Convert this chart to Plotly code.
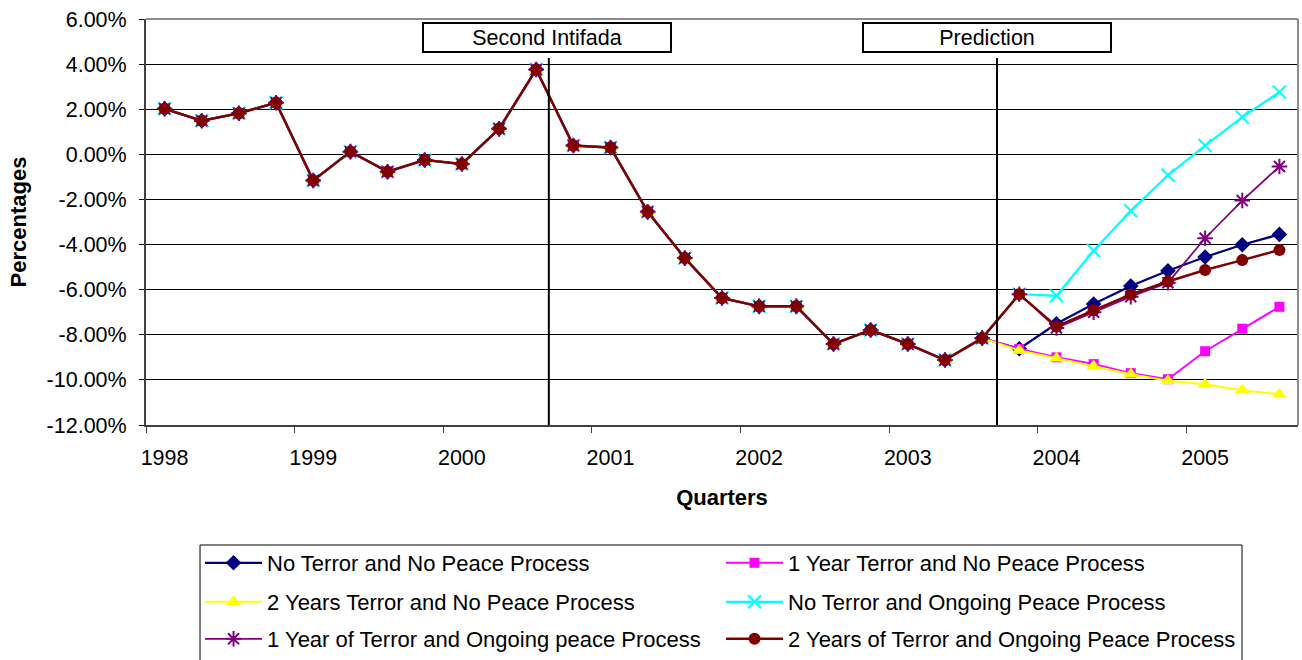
import plotly.graph_objects as go

# Quarterly timeline, 1998 Q1 through 2005 Q3
years = list(range(1998, 2006))
quarters = [f"{y} Q{q}" for y in years for q in range(1, 5)][:31]
x_idx = list(range(len(quarters)))

# Observed values (percent), 1998 Q1 - 2003 Q3, shared by every scenario
history = [2.02, 1.49, 1.82, 2.29, -1.16, 0.12, -0.77, -0.25, -0.43, 1.13,
           3.76, 0.39, 0.30, -2.55, -4.60, -6.37, -6.74, -6.74, -8.41, -7.79,
           -8.41, -9.12, -8.15]

# Scenario predictions (percent), 2003 Q4 - 2005 Q3
no_terror_no_peace = [-8.62, -7.51, -6.64, -5.84, -5.16, -4.55, -4.01, -3.55]
one_year_terror_no_peace = [-8.63, -9.00, -9.30, -9.70, -9.97, -8.73, -7.73, -6.76]
two_years_terror_no_peace = [-8.70, -9.04, -9.40, -9.75, -10.04, -10.19, -10.46, -10.64]
no_terror_peace = [-6.20, -6.27, -4.27, -2.50, -0.93, 0.39, 1.65, 2.76]
one_year_terror_peace = [-6.20, -7.70, -7.00, -6.31, -5.69, -3.72, -2.05, -0.54]
two_years_terror_peace = [-6.20, -7.63, -6.91, -6.21, -5.64, -5.13, -4.69, -4.24]

series_names = [
    "No Terror and No Peace Process",
    "1 Year Terror and No Peace Process",
    "2 Years Terror and No Peace Process",
    "No Terror and Ongoing Peace Process",
    "1 Year of Terror and Ongoing peace Process",
    "2 Years of Terror and Ongoing Peace Process",
]
series_preds = [no_terror_no_peace, one_year_terror_no_peace, two_years_terror_no_peace,
                no_terror_peace, one_year_terror_peace, two_years_terror_peace]

# Axis ticks
x_tick_vals = [0, 4, 8, 12, 16, 20, 24, 28]
x_tick_text = ["1998", "1999", "2000", "2001", "2002", "2003", "2004", "2005"]
y_tick_vals = [-12, -10, -8, -6, -4, -2, 0, 2, 4, 6]
y_tick_text = ["-12.00%", "-10.00%", "-8.00%", "-6.00%", "-4.00%", "-2.00%",
               "0.00%", "2.00%", "4.00%", "6.00%"]

# Event markers
intifada_x = 10.34
prediction_x = 22.4
event_labels = ["Second Intifada", "Prediction"]

styles = [
    dict(color="#000080", symbol="diamond", size=12, width=2.25),
    dict(color="#FF00FF", symbol="square", size=10, width=2),
    dict(color="#FFFF00", symbol="triangle-up", size=13, width=2),
    dict(color="#00FFFF", symbol="x-thin-open", size=13, width=2.25),
    dict(color="#800080", symbol="asterisk-open", size=13, width=1.75),
    dict(color="#800000", symbol="circle", size=12, width=2.5),
]

# Two legend entries per row; each row is its own legend
legend_ids = ["legend", "legend", "legend2", "legend2", "legend3", "legend3"]

fig = go.Figure()
for name, pred, st, lg in zip(series_names, series_preds, styles, legend_ids):
    y = history + pred
    open_sym = st["symbol"].endswith("open")
    fig.add_trace(go.Scatter(
        x=x_idx, y=y, name=name, mode="lines+markers", legend=lg,
        text=quarters,
        line=dict(color=st["color"], width=st["width"]),
        marker=dict(symbol=st["symbol"], size=st["size"], color=st["color"],
                    line=dict(color=st["color"], width=2 if open_sym else 0)),
    ))

font_family = "Arial, Liberation Sans, sans-serif"

# Event lines
for ex in (intifada_x, prediction_x):
    fig.add_shape(type="line", xref="x", yref="y", x0=ex, x1=ex, y0=-12, y1=4.27,
                  line=dict(color="black", width=2), layer="above")

# Plot-area frame (top and right edges)
fig.add_shape(type="line", xref="paper", yref="paper", x0=0, x1=1, y0=1, y1=1,
              line=dict(color="#8c8c8c", width=2), layer="above")
fig.add_shape(type="line", xref="paper", yref="paper", x0=1, x1=1, y0=0, y1=1,
              line=dict(color="#8c8c8c", width=2), layer="above")

# Legend frame
fig.add_shape(type="rect", xref="paper", yref="paper", x0=0.0469, x1=0.9514,
              y0=-0.2956, y1=-0.65, line=dict(color="black", width=1),
              fillcolor="rgba(0,0,0,0)", layer="above")

# Event boxes
for label, cx in zip(event_labels, (10.29, 22.13)):
    fig.add_annotation(x=cx, y=5.17, xref="x", yref="y", text=label, showarrow=False,
                       width=246, height=27, borderpad=0, borderwidth=2,
                       bordercolor="black", bgcolor="white",
                       font=dict(family=font_family, size=21.5, color="black"))

legend_common = dict(orientation="h", x=0.0469, xanchor="left", yanchor="middle",
                     borderwidth=0, bgcolor="rgba(0,0,0,0)",
                     entrywidth=449, entrywidthmode="pixels", itemwidth=57,
                     font=dict(family=font_family, size=22, color="black"))

fig.update_layout(
    width=1302, height=660,
    margin=dict(l=146, r=4, t=19, b=235, autoexpand=False),
    paper_bgcolor="white", plot_bgcolor="white",
    font=dict(family=font_family, size=21.5, color="black"),
    showlegend=True,
    legend=dict(y=-0.3399, **legend_common),
    legend2=dict(y=-0.4360, **legend_common),
    legend3=dict(y=-0.5271, **legend_common),
    xaxis=dict(range=[-0.5, 30.5], tickmode="array", tickvals=x_tick_vals,
               ticktext=x_tick_text, ticks="", showgrid=False, zeroline=False,
               showline=True, linecolor="#404040", linewidth=2,
               automargin=False, ticklabelstandoff=12,
               tickfont=dict(family=font_family, size=21.5),
               minor=dict(tickmode="linear", tick0=-0.5, dtick=4, ticks="outside",
                          ticklen=6, tickcolor="#404040", tickwidth=1, showgrid=False),
               title=dict(text="<b>Quarters</b>", standoff=21,
                          font=dict(family=font_family, size=22))),
    yaxis=dict(range=[-12, 6], tickmode="array", tickvals=y_tick_vals,
               ticktext=y_tick_text, ticks="outside", ticklen=5, tickcolor="black",
               showgrid=True, gridcolor="black", gridwidth=1, zeroline=False,
               showline=True, linecolor="#404040", linewidth=2,
               automargin=False, ticklabelstandoff=8,
               tickfont=dict(family=font_family, size=21.5),
               title=dict(text="<b>Percentages</b>", standoff=14,
                          font=dict(family=font_family, size=22))),
)

fig.write_html("out.html")
